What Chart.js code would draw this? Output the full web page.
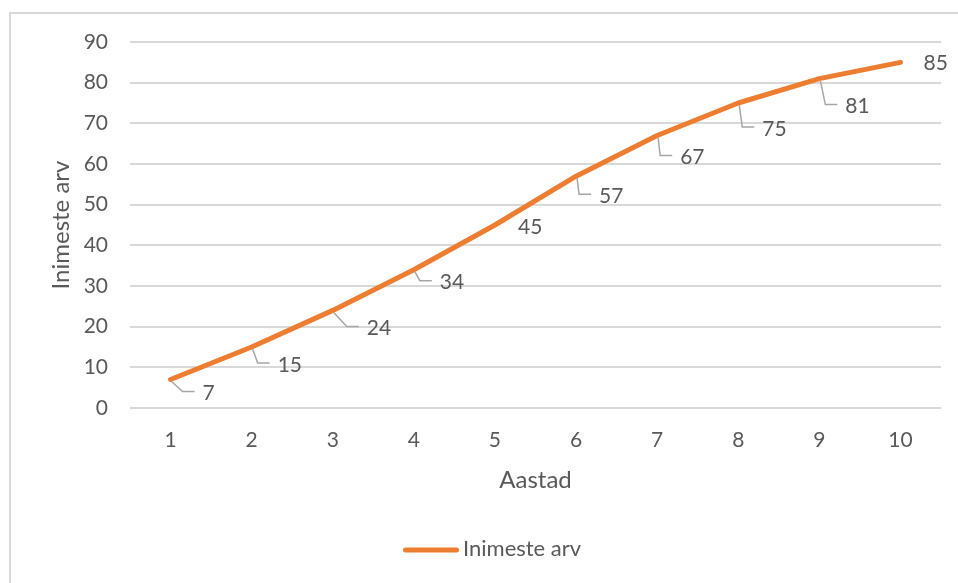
<!DOCTYPE html>
<html>
<head>
<meta charset="utf-8">
<script src="https://cdn.jsdelivr.net/npm/chart.js@4"></script>
<style>
  html, body { margin: 0; padding: 0; background: #ffffff; }
  #wrap { width: 958px; height: 583px; position: relative; }
</style>
</head>
<body>
<div id="wrap"><canvas id="c" width="958" height="583"></canvas></div>
<script>
// Years on the category axis
const years = ['1', '2', '3', '4', '5', '6', '7', '8', '9', '10'];
// Number of people per year
const people = [7, 15, 24, 34, 45, 57, 67, 75, 81, 85];
// Value axis range
const yMin = 0;
const yMax = 90;
const yStep = 10;

// Where each value label sits relative to its point: [dx to text start, dy to text middle, leader?]
const labelOffsets = [
  [32, 14, true], [26, 18, true], [34, 18, true], [26, 13, true], [23, 2, false],
  [23, 20, true], [23, 22, true], [24, 26, true], [26, 28, true], [23, 1, false]
];

const FONT = 'Lato, "Open Sans", sans-serif';
const TEXT = '#595959';
const ORANGE = '#ED7D31';
const GRID = '#D9D9D9';

// Light frame around the whole chart
const framePlugin = {
  id: 'frame',
  beforeDraw(chart) {
    const ctx = chart.ctx;
    ctx.save();
    ctx.fillStyle = '#ffffff';
    ctx.fillRect(0, 0, chart.width, chart.height);
    ctx.strokeStyle = GRID;
    ctx.lineWidth = 2;
    ctx.strokeRect(10, 13, chart.width + 20, chart.height + 20);
    ctx.restore();
  }
};

// Value labels with elbow leader lines
const valueLabels = {
  id: 'valueLabels',
  afterDatasetsDraw(chart) {
    const ctx = chart.ctx;
    const meta = chart.getDatasetMeta(0);
    ctx.save();
    ctx.font = '21px ' + FONT;
    ctx.textBaseline = 'middle';
    ctx.textAlign = 'left';
    meta.data.forEach((pt, i) => {
      const [dx, dy, leader] = labelOffsets[i];
      const lx = pt.x + dx;
      const ly = pt.y + dy;
      if (leader) {
        ctx.strokeStyle = '#A6A6A6';
        ctx.lineWidth = 1.5;
        ctx.beginPath();
        ctx.moveTo(pt.x + 1, pt.y + 2);
        ctx.lineTo(lx - 20, ly - 2);
        ctx.lineTo(lx - 8, ly - 2);
        ctx.stroke();
      }
      ctx.fillStyle = TEXT;
      ctx.fillText(String(chart.data.datasets[0].data[i]), lx, ly);
    });
    ctx.restore();
  }
};

// Series key below the axis title
const seriesKey = {
  id: 'seriesKey',
  afterDraw(chart) {
    const ctx = chart.ctx;
    const ds = chart.data.datasets[0];
    const y = 550;
    ctx.save();
    ctx.strokeStyle = ds.borderColor;
    ctx.lineWidth = 5;
    ctx.lineCap = 'round';
    ctx.beginPath();
    ctx.moveTo(405.5, y);
    ctx.lineTo(456.5, y);
    ctx.stroke();
    ctx.fillStyle = TEXT;
    ctx.font = '22px ' + FONT;
    ctx.textBaseline = 'middle';
    ctx.textAlign = 'left';
    ctx.fillText(ds.label, 463, y - 1);
    ctx.restore();
  }
};

new Chart(document.getElementById('c'), {
  type: 'line',
  data: {
    labels: years,
    datasets: [{
      label: 'Inimeste arv',
      data: people,
      borderColor: ORANGE,
      backgroundColor: ORANGE,
      borderWidth: 5,
      borderCapStyle: 'round',
      borderJoinStyle: 'round',
      pointRadius: 0,
      pointHoverRadius: 0,
      tension: 0,
      fill: false
    }]
  },
  options: {
    responsive: false,
    animation: false,
    layout: { padding: { top: 42, right: 17, left: 0, bottom: 75 } },
    plugins: {
      legend: { display: false },
      tooltip: { enabled: false }
    },
    scales: {
      x: {
        offset: true,
        grid: { display: false, drawTicks: false },
        border: { display: false },
        ticks: { color: TEXT, font: { family: FONT, size: 21 }, padding: 20, maxRotation: 0 },
        title: { display: true, text: 'Aastad', color: TEXT, font: { family: FONT, size: 24 }, padding: { top: 8, bottom: 13 } },
        afterFit(scale) { scale.height = 100; }
      },
      y: {
        min: yMin,
        max: yMax,
        ticks: { stepSize: yStep, color: TEXT, font: { family: FONT, size: 21 }, padding: 22 },
        grid: { color: GRID, lineWidth: 2, drawTicks: false },
        border: { display: false },
        title: { display: true, text: 'Inimeste arv', color: TEXT, font: { family: FONT, size: 24 }, padding: { top: 47, bottom: 0 } },
        afterFit(scale) { scale.width = 130; }
      }
    }
  },
  plugins: [framePlugin, valueLabels, seriesKey]
});
</script>
</body>
</html>
